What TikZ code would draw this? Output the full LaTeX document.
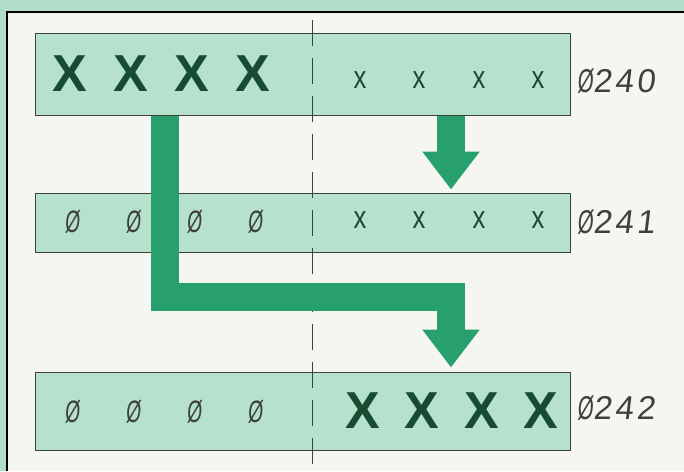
\documentclass[tikz,border=0pt]{standalone}
\usepackage{fontspec}
\setmainfont{Liberation Sans}
\newfontfamily\slantfont[FakeSlant=0.12]{Liberation Sans}
\newfontfamily\techfont[FakeSlant=0.12,LetterSpace=10]{Liberation Sans}
\usetikzlibrary{arrows.meta,calc}
\definecolor{bggreen}{RGB}{176,222,200}
\definecolor{cellgreen}{RGB}{182,226,205}
\definecolor{papergray}{RGB}{245,246,242}
\definecolor{arrowgreen}{RGB}{40,160,110}
\definecolor{inkgreen}{RGB}{24,76,50}
\definecolor{inkgray}{RGB}{62,64,62}
\newcommand{\zslash}{\scalebox{0.62}[1]{Ø}}

\begin{document}
\begin{tikzpicture}[
  x=1pt,y=-1pt,
  cell/.style={draw=inkgray,line width=1pt,fill=cellgreen,minimum width=535pt,inner sep=0pt},
  bigX/.style={font=\fontsize{52}{52}\selectfont\bfseries,text=inkgreen,inner sep=0pt},
  smallx/.style={font=\fontsize{32}{32}\selectfont,text=inkgreen,inner sep=0pt},
  zero/.style={font=\slantfont\fontsize{31}{31}\selectfont,text=inkgray,inner sep=0pt},
  addr/.style={font=\techfont\fontsize{33}{33}\selectfont,text=inkgray,anchor=west,inner sep=0pt},
  fat/.style={line width=28pt,arrowgreen,line join=miter,-{Triangle[width=55pt,length=38pt]}},
  split/.style={inkgray,line width=0.8pt,dash pattern=on 26pt off 12pt}
]
\useasboundingbox (0,0) rectangle (684,471);

% ---- paper and frame ----
\fill[bggreen] (0,0) rectangle (684,471);
\fill[papergray] (7,12) rectangle (684,471);
\draw[black,line width=1.8pt] (7,471) -- (7,12) -- (684,12);

% ---- the three locations ----
\node[cell,minimum height=82pt] (loc0) at (302.5,74) {};
\node[cell,minimum height=59pt] (loc1) at (302.5,222.5) {};
\node[cell,minimum height=78pt] (loc2) at (302.5,411) {};

% ---- split between the two halves ----
\coordinate (midtop) at (312,20);
\coordinate (midbot) at (312,471);
\draw[split] (midtop) -- (midbot);

% ---- contents ----
\foreach \gx [count=\i] in {70,131,192,253} {
  \node[bigX] (hi0-\i) at (\gx,74) {X};
  \node[zero] (hi1-\i) at (\gx+2,222) {\zslash};
  \node[zero] (hi2-\i) at (\gx+2,412) {\zslash};
}
\foreach \gx [count=\i] in {360,419,479,538} {
  \node[smallx] (lo0-\i) at (\gx,80) {\scalebox{0.8}[1]{x}};
  \node[smallx] (lo1-\i) at (\gx,220) {\scalebox{0.8}[1]{x}};
  \node[bigX] (lo2-\i) at (\gx+3,411) {X};
}

% ---- addresses ----
\node[addr] (addr0) at (577,81) {\zslash240};
\node[addr] (addr1) at (577,222) {\zslash241};
\node[addr] (addr2) at (577,408) {\zslash242};

% ---- moves ----
\coordinate (colL) at (165,0);
\coordinate (colR) at (451,0);
\coordinate (turn) at (451,297);
\draw[fat,shorten >=3pt] (loc0.south -| colR) -- (loc1.north -| colR);
\draw[fat,shorten >=4pt] (loc0.south -| colL) |- (turn) -- (loc2.north -| colR);

\end{tikzpicture}
\end{document}
